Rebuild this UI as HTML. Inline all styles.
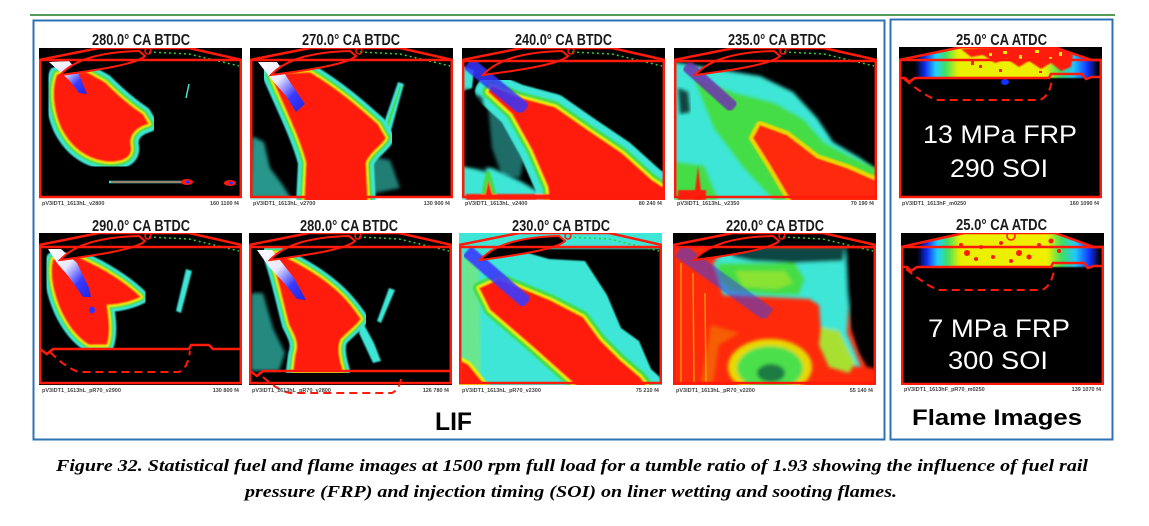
<!DOCTYPE html>
<html><head><meta charset="utf-8"><style>
html,body{margin:0;padding:0;background:#fff;}
svg{display:block;}
</style></head><body>
<svg width="1149" height="526" viewBox="0 0 1149 526" xmlns="http://www.w3.org/2000/svg" font-family="'Liberation Sans', sans-serif">
<defs>
  <filter id="soft" x="-5%" y="-5%" width="110%" height="110%"><feGaussianBlur stdDeviation="0.9"/></filter>
  <filter id="soft2" x="-5%" y="-5%" width="110%" height="110%"><feGaussianBlur stdDeviation="1.8"/></filter>
  <clipPath id="cp"><rect x="0" y="0" width="203" height="152"/></clipPath>
  <linearGradient id="wb" x1="0" y1="0" x2="1" y2="1">
    <stop offset="0" stop-color="#ffffff"/><stop offset="0.4" stop-color="#e8e8ff"/>
    <stop offset="0.7" stop-color="#3a3aff"/><stop offset="1" stop-color="#2222e0"/>
  </linearGradient>
  <linearGradient id="fl" x1="0" y1="0" x2="1" y2="0">
    <stop offset="0.08" stop-color="#000"/><stop offset="0.13" stop-color="#1030ff"/>
    <stop offset="0.18" stop-color="#20d0ff"/><stop offset="0.23" stop-color="#40e060"/>
    <stop offset="0.29" stop-color="#e8f000"/><stop offset="0.72" stop-color="#f0f000"/>
    <stop offset="0.79" stop-color="#40e060"/><stop offset="0.86" stop-color="#20c8ff"/>
    <stop offset="0.93" stop-color="#1030ff"/><stop offset="0.98" stop-color="#000"/>
  </linearGradient>
  <g id="head">
    <path d="M0,12 L60,0 L150,0 L203,12" fill="none" stroke="#ff1a0a" stroke-width="2.5"/>
    <path d="M110,4 L150,6 L200,18" fill="none" stroke="#33cc33" stroke-width="1.5" stroke-dasharray="2 3"/>
    <path d="M21,27 C35,12 60,4 100,3 L106,8 C98,16 60,22 21,27Z" fill="#000" stroke="#ff1a0a" stroke-width="2"/>
    <circle cx="109" cy="3" r="3" fill="none" stroke="#ff1a0a" stroke-width="1.5"/>
  </g>
  <path id="p11" d="M18,26 C12,40 14,62 22,80 C32,100 48,112 70,114 C86,114 94,108 92,98 C90,88 96,80 110,76 L104,66 C92,58 80,48 66,34 L48,24 Z"/>
  <path id="p12" d="M20,26 C30,50 50,90 56,115 L54,156 L118,156 L116,115 C120,104 132,98 136,90 L128,76 C110,60 90,42 60,24 Z"/>
  <path id="p13" d="M30,38 L56,49 L93,59 L126,82 L160,105 L190,132 L210,145 L210,156 L88,156 L86,139 L70,102 L50,66 L26,44 Z"/>
  <path id="p21" d="M14,26 C10,40 14,60 22,78 C30,95 40,106 50,112 L68,112 C72,100 70,85 68,72 C76,72 90,70 102,64 C92,54 78,44 60,34 L40,24 Z"/>
  <path id="p22" d="M20,20 C28,40 34,70 40,92 C46,104 50,110 46,122 L44,138 L94,138 C90,124 88,114 92,106 C100,98 108,92 112,86 C104,74 96,64 84,54 C70,42 50,30 28,20 Z"/>
  <path id="p23" d="M40,46 L91,67 L124,84 L141,107 L161,127 L181,144 L190,156 L121,156 L74,114 L31,77 L20,55 Z"/>
  <path id="p14" d="M86,77 L113,87 L143,110 L173,120 L205,134 L205,156 L119,156 L96,117 L79,90 Z"/>
</defs>

<rect width="1149" height="526" fill="#fff"/>
<line x1="30" y1="15" x2="1115" y2="15" stroke="#1f7a1f" stroke-width="1.5"/>
<rect x="33.5" y="20.5" width="851" height="419" fill="none" stroke="#2e72b5" stroke-width="2"/>
<rect x="890.5" y="19.5" width="222" height="420" fill="none" stroke="#2e72b5" stroke-width="2"/>

<!-- Titles -->
<g font-weight="bold" font-size="16" fill="#1a1a1a">
  <text x="92" y="45" textLength="98" lengthAdjust="spacingAndGlyphs">280.0° CA BTDC</text>
  <text x="302" y="45" textLength="98" lengthAdjust="spacingAndGlyphs">270.0° CA BTDC</text>
  <text x="515" y="45" textLength="97" lengthAdjust="spacingAndGlyphs">240.0° CA BTDC</text>
  <text x="728" y="45" textLength="98" lengthAdjust="spacingAndGlyphs">235.0° CA BTDC</text>
  <text x="956" y="45" textLength="91" lengthAdjust="spacingAndGlyphs">25.0° CA ATDC</text>
  <text x="92" y="231" textLength="98" lengthAdjust="spacingAndGlyphs">290.0° CA BTDC</text>
  <text x="300" y="231" textLength="98" lengthAdjust="spacingAndGlyphs">280.0° CA BTDC</text>
  <text x="512" y="231" textLength="98" lengthAdjust="spacingAndGlyphs">230.0° CA BTDC</text>
  <text x="726" y="231" textLength="98" lengthAdjust="spacingAndGlyphs">220.0° CA BTDC</text>
  <text x="956" y="230" textLength="91" lengthAdjust="spacingAndGlyphs">25.0° CA ATDC</text>
</g>

<!-- R1P1 -->
<g transform="translate(39,48)">
 <rect width="203" height="150" fill="#000"/>
 <g clip-path="url(#cp)">
  <g filter="url(#soft)">
   <use href="#p11" fill="#3de6d6" stroke="#3de6d6" stroke-width="16" stroke-linejoin="round"/>
   <use href="#p11" fill="#44dd44" stroke="#44dd44" stroke-width="9" stroke-linejoin="round"/>
   <use href="#p11" fill="#eef000" stroke="#eef000" stroke-width="4" stroke-linejoin="round"/>
   <use href="#p11" fill="#ff1a0a"/>
  </g>
  <path d="M10,14 L30,13 L38,22 L44,36 L48,46 L40,45 L30,32 Z" fill="url(#wb)"/>
  <line x1="70" y1="134" x2="150" y2="134" stroke="#3de6d6" stroke-width="2.5"/>
  <line x1="72" y1="134" x2="148" y2="134" stroke="#ff1a0a" stroke-width="1"/>
  <ellipse cx="148" cy="134" rx="6" ry="3" fill="#ff1a0a"/><ellipse cx="149" cy="134" rx="2" ry="1.5" fill="#3030ff"/>
  <ellipse cx="191" cy="135" rx="6" ry="3" fill="#ff1a0a"/><ellipse cx="192" cy="135" rx="2" ry="1.5" fill="#3030ff"/>
  <line x1="150" y1="36" x2="147" y2="50" stroke="#3de6d6" stroke-width="1.5"/>
  <use href="#head"/>
  <rect x="1.2" y="12" width="200.6" height="137" fill="none" stroke="#ff1a0a" stroke-width="2.5"/>
 </g>
</g>

<!-- R1P2 -->
<g transform="translate(250,48)">
 <rect width="203" height="150" fill="#000"/>
 <g clip-path="url(#cp)">
  <path d="M2,88 L14,94 L20,120 L32,136 L42,152 L0,152 Z" fill="#3de6d6" opacity="0.65" filter="url(#soft2)"/>
  <path d="M118,108 L140,112 L150,140 L120,146 Z" fill="#3de6d6" opacity="0.55" filter="url(#soft2)"/>
  <path d="M127,95 L148,34 L154,36 L137,97 Z" fill="#3de6d6" filter="url(#soft)"/>
  <path d="M131,92 L150,38 L151,39 L134,93 Z" fill="#44dd44"/>
  <g filter="url(#soft)">
   <use href="#p12" fill="#3de6d6" stroke="#3de6d6" stroke-width="16" stroke-linejoin="round"/>
   <use href="#p12" fill="#44dd44" stroke="#44dd44" stroke-width="9" stroke-linejoin="round"/>
   <use href="#p12" fill="#eef000" stroke="#eef000" stroke-width="4" stroke-linejoin="round"/>
   <use href="#p12" fill="#ff1a0a"/>
  </g>
  <path d="M8,14 L27,14 L44,40 L55,56 L46,64 L36,48 L22,32 Z" fill="url(#wb)"/>
  <use href="#head"/>
  <rect x="1.2" y="12" width="200.6" height="137" fill="none" stroke="#ff1a0a" stroke-width="2.5"/>
 </g>
</g>

<!-- R1P3 -->
<g transform="translate(462,48)">
 <rect width="203" height="150" fill="#000"/>
 <g clip-path="url(#cp)">
  <path d="M0,18 L12,22 L10,40 L0,44 Z" fill="#3de6d6" filter="url(#soft)"/>
  <path d="M26,58 L50,70 L62,110 L58,130 L40,128 L30,100 Z" fill="#2a9a94" opacity="0.7" filter="url(#soft2)"/>
  <path d="M0,118 L30,120 L60,134 L90,152 L0,152 Z" fill="#3de6d6" filter="url(#soft2)"/>
  <g filter="url(#soft)">
   <use href="#p13" fill="#3de6d6" stroke="#3de6d6" stroke-width="26" stroke-linejoin="round"/>
   <use href="#p13" fill="#44dd44" stroke="#44dd44" stroke-width="12" stroke-linejoin="round"/>
   <use href="#p13" fill="#eef000" stroke="#eef000" stroke-width="5" stroke-linejoin="round"/>
   <use href="#p13" fill="#ff1a0a"/>
   <path d="M20,152 L26,124 L34,152 Z" fill="#ff1a0a" stroke="#44dd44" stroke-width="4"/>
   <rect x="4" y="146" width="90" height="6" fill="#ff1a0a"/>
  </g>
  <path d="M3,40 L20,50 L26,90 L24,124 L3,118 Z" fill="#000" opacity="0.85" filter="url(#soft2)"/>
  <line x1="6" y1="15" x2="63" y2="62" stroke="#3434ff" stroke-width="14" opacity="0.85" filter="url(#soft)"/>
  <use href="#head"/>
  <rect x="1.2" y="13" width="200.6" height="136" fill="none" stroke="#ff1a0a" stroke-width="2.5"/>
 </g>
</g>

<!-- R1P4 -->
<g transform="translate(674,48)">
 <rect width="203" height="150" fill="#000"/>
 <g clip-path="url(#cp)">
  <path d="M0,14 L36,20 L86,28 L119,44 L143,70 L159,94 L186,110 L205,124 L205,152 L0,152 Z" fill="#3de6d6" filter="url(#soft2)"/>
  <path d="M4,40 L14,44 L16,64 L6,66 Z" fill="#000" opacity="0.7" filter="url(#soft2)"/>
  <g filter="url(#soft2)">
   <path d="M20,30 L60,45 L100,55 L130,72 L150,95 L175,108 L205,122 L205,152 L100,152 L70,120 L40,80 Z" fill="#44dd44"/>
   <path d="M0,114 L30,118 L44,152 L0,152 Z" fill="#44dd44"/>
  </g>
  <g filter="url(#soft)">
   <use href="#p14" fill="#e8d800" stroke="#e8d800" stroke-width="8" stroke-linejoin="round"/>
   <use href="#p14" fill="#ff2a0a"/>
  </g>
  <path d="M20,152 L24,118 L28,152 Z" fill="#ff1a0a" filter="url(#soft)"/>
  <path d="M4,142 L32,142 L32,152 L4,152 Z" fill="#ff1a0a" filter="url(#soft)"/>
  <line x1="12" y1="17" x2="60" y2="60" stroke="#7030b0" stroke-width="12" opacity="0.85" filter="url(#soft)"/>
  <use href="#head"/>
  <rect x="1.2" y="13" width="200.6" height="136" fill="none" stroke="#ff1a0a" stroke-width="2.5"/>
 </g>
</g>

<!-- Flame 1 -->
<g transform="translate(899,47)">
 <rect width="203" height="151" fill="#000"/>
 <g clip-path="url(#cp)">
  <path d="M0,13 L63,0 L154,0 L193,13 L203,13 L203,31 L0,31 Z" fill="url(#fl)" filter="url(#soft)"/>
  <path d="M62,2 L100,0 L160,0 L174,8 L172,20 L162,24 L152,16 L142,22 L130,14 L120,20 L108,12 L96,16 L84,8 L72,10 Z" fill="#ff1a0a" filter="url(#soft)"/>
  <g fill="#f0f000">
   <rect x="104" y="4" width="4" height="3"/><rect x="120" y="8" width="3" height="4"/><rect x="136" y="3" width="4" height="3"/>
   <rect x="150" y="10" width="3" height="3"/><rect x="90" y="6" width="3" height="3"/><rect x="160" y="5" width="3" height="4"/>
  </g>
  <g fill="#ff1a0a">
   <rect x="72" y="14" width="3" height="4"/><rect x="80" y="18" width="3" height="3"/>
   <rect x="100" y="22" width="3" height="3"/><rect x="140" y="24" width="3" height="2"/>
  </g>
  <ellipse cx="106" cy="35" rx="4" ry="3" fill="#1030ff"/>
  <path d="M0,13 L63,0 L154,0 L193,13 L203,13" fill="none" stroke="#ff1a0a" stroke-width="2.5"/>
  <path d="M0,31 L6,31 L10,35 L16,31 L150,31 L152,27 L183,27 L187,32 L193,30 L203,30" fill="none" stroke="#ff1a0a" stroke-width="2.5"/>
  <path d="M5,32 C15,40 28,50 38,53 L141,53 C148,50 152,42 153,32" fill="none" stroke="#ff1a0a" stroke-width="2" stroke-dasharray="8 5"/>
  <rect x="1.2" y="13" width="200.6" height="137" fill="none" stroke="#ff1a0a" stroke-width="2.5"/>
 </g>
</g>
<text x="923" y="143" fill="#fff" font-size="25" textLength="154" lengthAdjust="spacingAndGlyphs">13 MPa FRP</text>
<text x="950" y="177" fill="#fff" font-size="25" textLength="98" lengthAdjust="spacingAndGlyphs">290 SOI</text>

<!-- R2P1 -->
<g transform="translate(39,233)">
 <rect width="203" height="151" fill="#000"/>
 <g clip-path="url(#cp)">
  <g filter="url(#soft)">
   <use href="#p21" fill="#3de6d6" stroke="#3de6d6" stroke-width="14" stroke-linejoin="round"/>
   <use href="#p21" fill="#44dd44" stroke="#44dd44" stroke-width="8" stroke-linejoin="round"/>
   <use href="#p21" fill="#eef000" stroke="#eef000" stroke-width="4" stroke-linejoin="round"/>
   <use href="#p21" fill="#ff1a0a"/>
  </g>
  <path d="M9,16 L22,16 L38,30 L50,55 L52,64 L44,64 L30,44 L18,30 Z" fill="url(#wb)"/>
  <ellipse cx="53" cy="77" rx="3" ry="3.5" fill="#3030ff"/>
  <path d="M147,36 L153,38 L142,80 L137,78 Z" fill="#3de6d6" filter="url(#soft)"/>
  <rect x="0" y="117" width="203" height="40" fill="#000"/>
  <path d="M1,116 L8,121 L14,116 L150,116 L152,112 L170,112 L174,116 L201,116" fill="none" stroke="#ff1a0a" stroke-width="2.5"/>
  <path d="M11,119 C20,128 30,136 40,139 L140,139 C148,136 150,125 151,118" fill="none" stroke="#ff1a0a" stroke-width="2" stroke-dasharray="8 5"/>
  <use href="#head"/>
  <rect x="1.2" y="14" width="200.6" height="136" fill="none" stroke="#ff1a0a" stroke-width="2.5"/>
 </g>
</g>

<!-- R2P2 -->
<g transform="translate(249,233)">
 <rect width="203" height="151" fill="#000"/>
 <g clip-path="url(#cp)">
  <path d="M2,60 L14,60 L24,95 L36,120 L30,138 L2,138 Z" fill="#3de6d6" opacity="0.6" filter="url(#soft2)"/>
  <path d="M112,86 L125,110 L132,128 L124,130 L110,100 Z" fill="#3de6d6" filter="url(#soft)"/>
  <path d="M140,55 L146,57 L132,90 L128,88 Z" fill="#3de6d6" filter="url(#soft)"/>
  <g filter="url(#soft)">
   <use href="#p22" fill="#3de6d6" stroke="#3de6d6" stroke-width="14" stroke-linejoin="round"/>
   <use href="#p22" fill="#44dd44" stroke="#44dd44" stroke-width="8" stroke-linejoin="round"/>
   <use href="#p22" fill="#eef000" stroke="#eef000" stroke-width="4" stroke-linejoin="round"/>
   <use href="#p22" fill="#ff1a0a"/>
  </g>
  <path d="M8,17 L23,17 L45,45 L57,67 L48,66 L35,50 L20,34 Z" fill="url(#wb)"/>
  <rect x="0" y="140" width="203" height="20" fill="#000"/>
  <path d="M1,138 L8,143 L14,138 L201,138" fill="none" stroke="#ff1a0a" stroke-width="2.5"/>
  <use href="#head"/>
  <rect x="1.2" y="14" width="200.6" height="136" fill="none" stroke="#ff1a0a" stroke-width="2.5"/>
 </g>
</g>
<path d="M263,377 C272,385 280,391 290,393 L392,393 C398,390 400,385 401,379" fill="none" stroke="#ff1a0a" stroke-width="2" stroke-dasharray="8 5"/>

<!-- R2P3 -->
<g transform="translate(459,233)">
 <rect width="203" height="151" fill="#000"/>
 <g clip-path="url(#cp)">
  <rect x="0" y="0" width="203" height="152" fill="#3de6d6"/>
  <path d="M3,20 L20,30 L22,150 L3,150 Z" fill="#7ee870" opacity="0.7" filter="url(#soft2)"/>
  <path d="M55,16 L205,16 L205,148 L192,136 L180,108 L162,95 L148,62 L126,28 L90,26 Z" fill="#000" filter="url(#soft)"/>
  <ellipse cx="124" cy="136" rx="16" ry="10" fill="#0a5a58" opacity="0.55" filter="url(#soft2)"/>
  <g filter="url(#soft)">
   <use href="#p23" fill="#44dd44" stroke="#44dd44" stroke-width="12" stroke-linejoin="round"/>
   <use href="#p23" fill="#eef000" stroke="#eef000" stroke-width="5" stroke-linejoin="round"/>
   <use href="#p23" fill="#ff1a0a"/>
   <path d="M0,125 L10,130 L28,152 L0,152 Z" fill="#ff1a0a" stroke="#eef000" stroke-width="3"/>
   <path d="M160,152 L172,140 L182,152 Z" fill="#ff1a0a"/>
  </g>
  <line x1="8" y1="18" x2="68" y2="70" stroke="#3a3aff" stroke-width="13" opacity="0.9" filter="url(#soft)"/>
  <use href="#head"/>
  <rect x="1.2" y="14" width="200.6" height="136" fill="none" stroke="#ff1a0a" stroke-width="2.5"/>
 </g>
</g>

<!-- R2P4 -->
<g transform="translate(673,233)">
 <rect width="203" height="151" fill="#000"/>
 <g clip-path="url(#cp)">
  <rect x="0" y="14" width="203" height="140" fill="#ff2a0a"/>
  <g filter="url(#soft2)">
   <path d="M55,14 L178,14 L176,60 L174,100 L188,134 L160,130 L148,98 L146,72 L136,66 L50,62 L40,30 Z" fill="#3de6d6"/>
   <path d="M44,30 L122,30 L132,46 L126,62 L100,62 L58,58 L46,46 Z" fill="#44dd44"/>
   <path d="M62,38 L112,38 L120,50 L104,56 L70,54 Z" fill="#b8e828" opacity="0.6"/>
   <path d="M58,14 L172,14 L170,28 L120,30 L80,28 L60,24 Z" fill="#062a2a" opacity="0.85"/>
   <path d="M172,14 L205,14 L205,136 L194,134 L186,120 L178,96 L174,60 Z" fill="#000"/>
   <path d="M148,94 L166,98 L182,130 L176,140 L156,134 L146,112 Z" fill="#a8e030"/>
   <path d="M40,150 L46,112 L66,100 L38,92 L28,150 Z" fill="#f08000" opacity="0.6"/>
   <ellipse cx="97" cy="134" rx="42" ry="28" fill="#e8d800"/>
   <ellipse cx="97" cy="135" rx="33" ry="22" fill="#4ce04c"/>
   <ellipse cx="98" cy="140" rx="14" ry="9" fill="#0a5a40" opacity="0.75"/>
  </g>
  <g stroke="#f0c000" stroke-width="1.5" opacity="0.7">
   <line x1="8" y1="30" x2="8" y2="150"/><line x1="20" y1="40" x2="21" y2="150"/><line x1="32" y1="60" x2="33" y2="150"/>
  </g>
  <line x1="6" y1="17" x2="96" y2="82" stroke="#4040e0" stroke-width="15" opacity="0.55" filter="url(#soft)"/>
  <use href="#head"/>
  <rect x="1.2" y="14" width="200.6" height="136" fill="none" stroke="#ff1a0a" stroke-width="2.5"/>
 </g>
</g>

<!-- Flame 2 -->
<g transform="translate(901,233)">
 <rect width="203" height="152" fill="#000"/>
 <g clip-path="url(#cp)">
  <path d="M0,14 L63,0 L154,0 L193,14 L203,14 L203,34 L0,34 Z" fill="url(#fl)" filter="url(#soft)"/>
  <g fill="#ff1a0a">
   <circle cx="60" cy="12" r="2"/><circle cx="66" cy="20" r="3"/><circle cx="80" cy="14" r="2"/>
   <circle cx="92" cy="24" r="2"/><circle cx="100" cy="10" r="2"/><circle cx="118" cy="20" r="3"/>
   <circle cx="128" cy="24" r="2.5"/><circle cx="138" cy="12" r="2"/><circle cx="150" cy="8" r="2.5"/>
   <circle cx="158" cy="18" r="2"/><circle cx="75" cy="26" r="2"/><circle cx="110" cy="28" r="2"/>
  </g>
  <circle cx="110" cy="3" r="4" fill="none" stroke="#ff1a0a" stroke-width="1.5"/>
  <path d="M0,14 L63,0 L154,0 L193,14 L203,14" fill="none" stroke="#ff1a0a" stroke-width="2.5"/>
  <path d="M0,34 L6,34 L10,38 L16,34 L150,34 L152,30 L183,30 L187,35 L193,33 L203,33" fill="none" stroke="#ff1a0a" stroke-width="2.5"/>
  <path d="M5,36 C15,44 28,54 38,57 L141,57 C148,54 152,46 153,36" fill="none" stroke="#ff1a0a" stroke-width="2" stroke-dasharray="8 5"/>
  <rect x="1.2" y="14" width="200.6" height="137" fill="none" stroke="#ff1a0a" stroke-width="2.5"/>
 </g>
</g>
<text x="928" y="337" fill="#fff" font-size="25" textLength="142" lengthAdjust="spacingAndGlyphs">7 MPa FRP</text>
<text x="948" y="369" fill="#fff" font-size="25" textLength="100" lengthAdjust="spacingAndGlyphs">300 SOI</text>

<!-- tiny footer labels -->
<g font-size="5.5" font-weight="bold" fill="#444">
  <text x="42" y="205">pV3IDT1_1613hL_v2800</text><text x="239" y="205" text-anchor="end">160  1100  f4</text>
  <text x="253" y="205">pV3IDT1_1613hL_v2700</text><text x="450" y="205" text-anchor="end">130  900  f4</text>
  <text x="465" y="205">pV3IDT1_1613hL_v2400</text><text x="662" y="205" text-anchor="end">80  240  f4</text>
  <text x="677" y="205">pV3IDT1_1613hL_v2350</text><text x="874" y="205" text-anchor="end">70  190  f4</text>
  <text x="902" y="205">pV3IDT1_1613hF_m0250</text><text x="1099" y="205" text-anchor="end">160  1090  f4</text>
  <text x="42" y="392">pV3IDT1_1613hL_pR70_v2900</text><text x="239" y="392" text-anchor="end">130  800  f4</text>
  <text x="252" y="392">pV3IDT1_1613hL_pR70_v2800</text><text x="449" y="392" text-anchor="end">126  780  f4</text>
  <text x="462" y="392">pV3IDT1_1613hL_pR70_v2300</text><text x="659" y="392" text-anchor="end">75  210  f4</text>
  <text x="676" y="392">pV3IDT1_1613hL_pR70_v2200</text><text x="873" y="392" text-anchor="end">55  140  f4</text>
  <text x="904" y="391">pV3IDT1_1613hF_pR70_m0250</text><text x="1101" y="391" text-anchor="end">139  1070  f4</text>
</g>

<!-- Section labels -->
<text x="435" y="430" font-size="25" font-weight="bold" fill="#000" textLength="37" lengthAdjust="spacingAndGlyphs">LIF</text>
<text x="912" y="425" font-size="22" font-weight="bold" fill="#000" textLength="170" lengthAdjust="spacingAndGlyphs">Flame Images</text>

<!-- Caption -->
<g font-family="'Liberation Serif', serif" font-style="italic" font-weight="bold" font-size="17" fill="#000">
  <text x="56" y="471" textLength="1032" lengthAdjust="spacingAndGlyphs">Figure 32. Statistical fuel and flame images at 1500 rpm full load for a tumble ratio of 1.93 showing the influence of fuel rail</text>
  <text x="245" y="497" textLength="652" lengthAdjust="spacingAndGlyphs">pressure (FRP) and injection timing (SOI) on liner wetting and sooting flames.</text>
</g>
</svg>
</body></html>
